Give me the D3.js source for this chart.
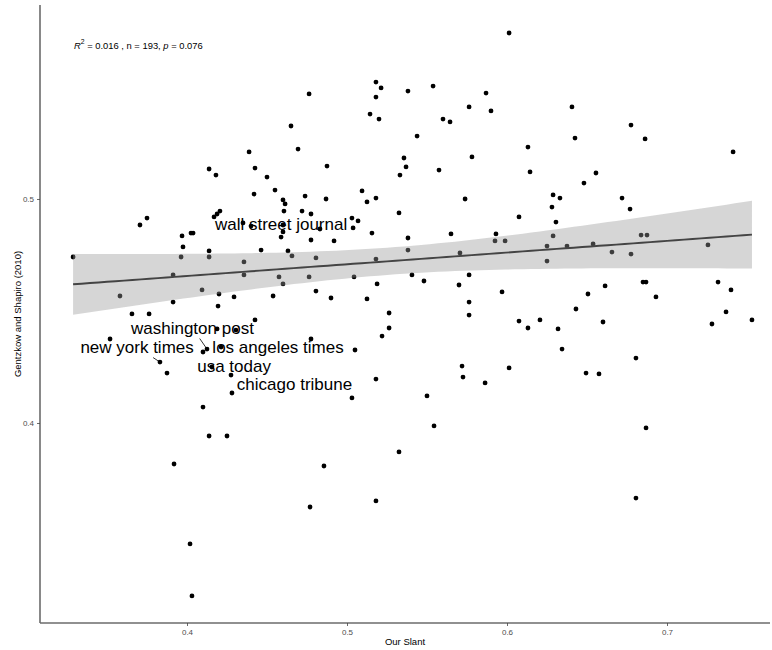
<!DOCTYPE html>
<html>
<head>
<meta charset="utf-8">
<script src="https://cdn.jsdelivr.net/npm/d3@7"></script>
<style>
  html, body { margin: 0; padding: 0; background: #fff; }
  svg { display: block; font-family: "Liberation Sans", Arial, Helvetica, sans-serif; }
</style>
</head>
<body>
<svg id="chart" width="772" height="650"></svg>
<script>
// Outlet slant (x) against Gentzkow & Shapiro (2010) slant (y)
const slant = [
  0.3288, 0.3519, 0.3581, 0.3656, 0.3763, 0.3706, 0.3750, 0.3831, 0.3875, 0.3913,
  0.3913, 0.3963, 0.3975, 0.3969, 0.4025, 0.4038, 0.3919, 0.4019, 0.4031, 0.4100,
  0.4138, 0.4250, 0.4281, 0.4275, 0.4156, 0.4125, 0.4100, 0.4213, 0.4188, 0.4306,
  0.4425, 0.4094, 0.4200, 0.4194, 0.4294, 0.4356, 0.4356, 0.4138, 0.4138, 0.4463,
  0.4631, 0.4656, 0.4538, 0.4575, 0.4600, 0.4138, 0.4181, 0.4388, 0.4425, 0.4500,
  0.4419, 0.4550, 0.4600, 0.4613, 0.4738, 0.4606, 0.4719, 0.4206, 0.4188, 0.4169,
  0.4350, 0.4400, 0.4600, 0.4600, 0.4588, 0.4694, 0.4650, 0.4763, 0.4763, 0.6013,
  0.5181, 0.5213, 0.5181, 0.5381, 0.5538, 0.5869, 0.5144, 0.5200, 0.5763, 0.5900,
  0.5600, 0.5644, 0.5438, 0.6131, 0.6144, 0.5356, 0.5369, 0.5331, 0.5575, 0.5781,
  0.4875, 0.4869, 0.5094, 0.5125, 0.5181, 0.5738, 0.4775, 0.5031, 0.5069, 0.5038,
  0.4831, 0.5325, 0.6075, 0.4775, 0.4919, 0.5156, 0.5381, 0.5650, 0.5931, 0.5925,
  0.5988, 0.4806, 0.5181, 0.5381, 0.5706, 0.6250, 0.6250, 0.6406, 0.6775, 0.6425,
  0.6863, 0.7413, 0.6481, 0.6556, 0.6719, 0.6769, 0.6288, 0.6331, 0.6281, 0.6306,
  0.6288, 0.6375, 0.6538, 0.6838, 0.6875, 0.7256, 0.6656, 0.6775, 0.5044, 0.5406,
  0.5481, 0.5188, 0.5700, 0.5763, 0.4806, 0.4900, 0.5125, 0.5763, 0.5969, 0.5263,
  0.5763, 0.5263, 0.5219, 0.6075, 0.6131, 0.6206, 0.4775, 0.5050, 0.5719, 0.5725,
  0.6013, 0.5863, 0.5181, 0.5031, 0.5500, 0.5544, 0.5325, 0.4856, 0.4769, 0.5181,
  0.6319, 0.6344, 0.6431, 0.6506, 0.6613, 0.6600, 0.6494, 0.6575, 0.6806, 0.6850,
  0.6869, 0.6931, 0.6869, 0.6806, 0.7319, 0.7400, 0.7369, 0.7281, 0.7531
];
const gentzkowShapiro = [
  0.4741, 0.4375, 0.4567, 0.4487, 0.4487, 0.4884, 0.4915, 0.4272, 0.4223, 0.4661,
  0.4540, 0.4741, 0.4786, 0.4835, 0.4848, 0.4848, 0.3817, 0.3460, 0.3228, 0.4071,
  0.3942, 0.3942, 0.4134, 0.4214, 0.4250, 0.4330, 0.4317, 0.4339, 0.4420, 0.4415,
  0.4460, 0.4594, 0.4576, 0.4522, 0.4563, 0.4719, 0.4661, 0.4768, 0.4741, 0.4772,
  0.4768, 0.4746, 0.4567, 0.4652, 0.4621, 0.5134, 0.5107, 0.5210, 0.5138, 0.5098,
  0.5022, 0.5040, 0.4996, 0.4978, 0.5013, 0.4946, 0.4946, 0.4946, 0.4933, 0.4920,
  0.4893, 0.4879, 0.4884, 0.4853, 0.4830, 0.5223, 0.5326, 0.5469, 0.4652, 0.5741,
  0.5522, 0.5496, 0.5455, 0.5482, 0.5504, 0.5473, 0.5379, 0.5357, 0.5411, 0.5393,
  0.5357, 0.5344, 0.5281, 0.5232, 0.5121, 0.5183, 0.5143, 0.5107, 0.5129, 0.5188,
  0.5147, 0.5000, 0.5036, 0.4987, 0.5004, 0.5000, 0.4933, 0.4915, 0.4902, 0.4871,
  0.4866, 0.4938, 0.4920, 0.4817, 0.4813, 0.4848, 0.4826, 0.4844, 0.4844, 0.4813,
  0.4813, 0.4737, 0.4732, 0.4772, 0.4759, 0.4790, 0.4723, 0.5411, 0.5330, 0.5272,
  0.5268, 0.5210, 0.5071, 0.5116, 0.5004, 0.4955, 0.5018, 0.5004, 0.4964, 0.4897,
  0.4835, 0.4790, 0.4799, 0.4839, 0.4839, 0.4795, 0.4763, 0.4754, 0.4652, 0.4661,
  0.4634, 0.4621, 0.4616, 0.4661, 0.4589, 0.4558, 0.4554, 0.4540, 0.4585, 0.4491,
  0.4482, 0.4424, 0.4388, 0.4455, 0.4424, 0.4460, 0.4375, 0.4326, 0.4254, 0.4205,
  0.4246, 0.4179, 0.4196, 0.4112, 0.4121, 0.3987, 0.3871, 0.3808, 0.3625, 0.3652,
  0.4420, 0.4330, 0.4509, 0.4576, 0.4612, 0.4451, 0.4223, 0.4219, 0.4290, 0.4629,
  0.4629, 0.4563, 0.3978, 0.3665, 0.4629, 0.4594, 0.4496, 0.4442, 0.4460
];

// Labelled outlets: index of the point, label centre (data units), leader line flag
const outletNames  = ["wall street journal", "washington post", "new york times", "los angeles times", "usa today", "chicago tribune"];
const outletIndex  = [61, 25, 7, 27, 24, 23];
const outletLabelX = [0.4588, 0.4034, 0.3688, 0.4569, 0.4294, 0.4672];
const outletLabelY = [0.4888, 0.4424, 0.4339, 0.4339, 0.4254, 0.4170];
const outletLeader = [false, true, true, false, false, false];

const xTicks = [0.4, 0.5, 0.6, 0.7];
const yTicks = [0.4, 0.5];
const statLabel = { r2: "0.016", n: "193", p: "0.076", x: 0.3294, y: 0.5688 };

const svg = d3.select("#chart");
const panel = { left: 40, right: 770, top: 5, bottom: 623 };

const x = d3.scaleLinear().domain([0.308125, 0.764375]).range([panel.left, panel.right]);
const y = d3.scaleLinear().domain([0.310714, 0.586607]).range([panel.bottom, panel.top]);

const pts = slant.map((v, i) => ({ x: v, y: gentzkowShapiro[i] }));

// Ordinary least squares fit with 95% confidence band
const n = pts.length;
const mx = d3.mean(pts, d => d.x), my = d3.mean(pts, d => d.y);
const sxx = d3.sum(pts, d => (d.x - mx) ** 2);
const sxy = d3.sum(pts, d => (d.x - mx) * (d.y - my));
const b1 = sxy / sxx, b0 = my - b1 * mx;
const sse = d3.sum(pts, d => (d.y - (b0 + b1 * d.x)) ** 2);
const sigma = Math.sqrt(sse / (n - 2));
const tcrit = 1.9725;
const [xmin, xmax] = d3.extent(pts, d => d.x);
const grid = d3.range(0, 81).map(i => xmin + (xmax - xmin) * i / 80).map(v => {
  const fit = b0 + b1 * v;
  const se = sigma * Math.sqrt(1 / n + (v - mx) ** 2 / sxx);
  return { x: v, fit, lo: fit - tcrit * se, hi: fit + tcrit * se };
});

// Points
svg.append("g").selectAll("circle").data(pts).join("circle")
  .attr("cx", d => x(d.x)).attr("cy", d => y(d.y)).attr("r", 2.4)
  .attr("fill", "#000");

// Confidence ribbon and fitted line
svg.append("path").datum(grid)
  .attr("d", d3.area().x(d => x(d.x)).y0(d => y(d.lo)).y1(d => y(d.hi)))
  .attr("fill", "#999999").attr("fill-opacity", 0.4);
svg.append("path").datum(grid)
  .attr("d", d3.line().x(d => x(d.x)).y(d => y(d.fit)))
  .attr("fill", "none").attr("stroke", "#444").attr("stroke-width", 1.9);

// Outlet labels
const labelFont = 17;
const lab = svg.append("g");
outletNames.forEach((name, i) => {
  const p = pts[outletIndex[i]];
  const t = lab.append("text")
    .attr("x", x(outletLabelX[i])).attr("y", y(outletLabelY[i]))
    .attr("text-anchor", "middle").attr("dominant-baseline", "central")
    .attr("font-size", labelFont).attr("fill", "#000").text(name);
  if (outletLeader[i]) {
    const bb = t.node().getBBox();
    const cx = x(outletLabelX[i]), cy = y(outletLabelY[i]);
    const px = x(p.x), py = y(p.y);
    const halfH = labelFont * 0.5 + 2, halfW = bb.width / 2 + 2;
    const dx = cx - px, dy = cy - py;
    const tEdge = Math.min(
      dx !== 0 ? (Math.abs(dx) - halfW) / Math.abs(dx) : 1,
      dy !== 0 ? (Math.abs(dy) - halfH) / Math.abs(dy) : 1
    );
    const k = Math.max(tEdge, (Math.abs(dy) - halfH) / Math.abs(dy));
    lab.append("line")
      .attr("x1", px).attr("y1", py)
      .attr("x2", px + dx * k).attr("y2", py + dy * k)
      .attr("stroke", "#000").attr("stroke-width", 0.8);
  }
});

// Axes
const axisColor = "#6b6b6b";
const gx = svg.append("g").attr("transform", `translate(0,${panel.bottom})`)
  .call(d3.axisBottom(x).tickValues(xTicks).tickSize(3).tickPadding(3).tickFormat(d3.format(".1f")));
const gy = svg.append("g").attr("transform", `translate(${panel.left},0)`)
  .call(d3.axisLeft(y).tickValues(yTicks).tickSize(3).tickPadding(3).tickFormat(d3.format(".1f")));
[gx, gy].forEach(g => {
  g.select(".domain").attr("stroke", axisColor).attr("stroke-width", 1.6);
  g.selectAll(".tick line").attr("stroke", "#444").attr("stroke-width", 0.8);
  g.selectAll(".tick text").attr("fill", "#4d4d4d").attr("font-size", 8)
    .attr("font-family", "Liberation Sans, Arial, sans-serif");
});
gx.select(".domain").attr("d", `M${panel.left},0H${panel.right}`);
gy.select(".domain").attr("d", `M0,${panel.top}V${panel.bottom}`);

// Axis titles
svg.append("text").attr("x", (panel.left + panel.right) / 2).attr("y", 645)
  .attr("text-anchor", "middle").attr("font-size", 9.5).attr("fill", "#000").text("Our Slant");
svg.append("text")
  .attr("transform", `translate(17,${(panel.top + panel.bottom) / 2}) rotate(-90)`)
  .attr("text-anchor", "middle").attr("dominant-baseline", "central")
  .attr("font-size", 9.5).attr("fill", "#000").text("Gentzkow and Shapiro (2010)");

// Fit statistics
const st = svg.append("text").attr("x", x(statLabel.x)).attr("y", y(statLabel.y))
  .attr("dominant-baseline", "central").attr("font-size", 9.4).attr("fill", "#000");
st.append("tspan").attr("font-style", "italic").text("R");
st.append("tspan").attr("font-size", 6.8).attr("dy", -3.6).text("2");
st.append("tspan").attr("dy", 3.6).text(` = ${statLabel.r2} ,  n = ${statLabel.n},  `);
st.append("tspan").attr("font-style", "italic").text("p");
st.append("tspan").text(` = ${statLabel.p}`);
</script>
</body>
</html>
